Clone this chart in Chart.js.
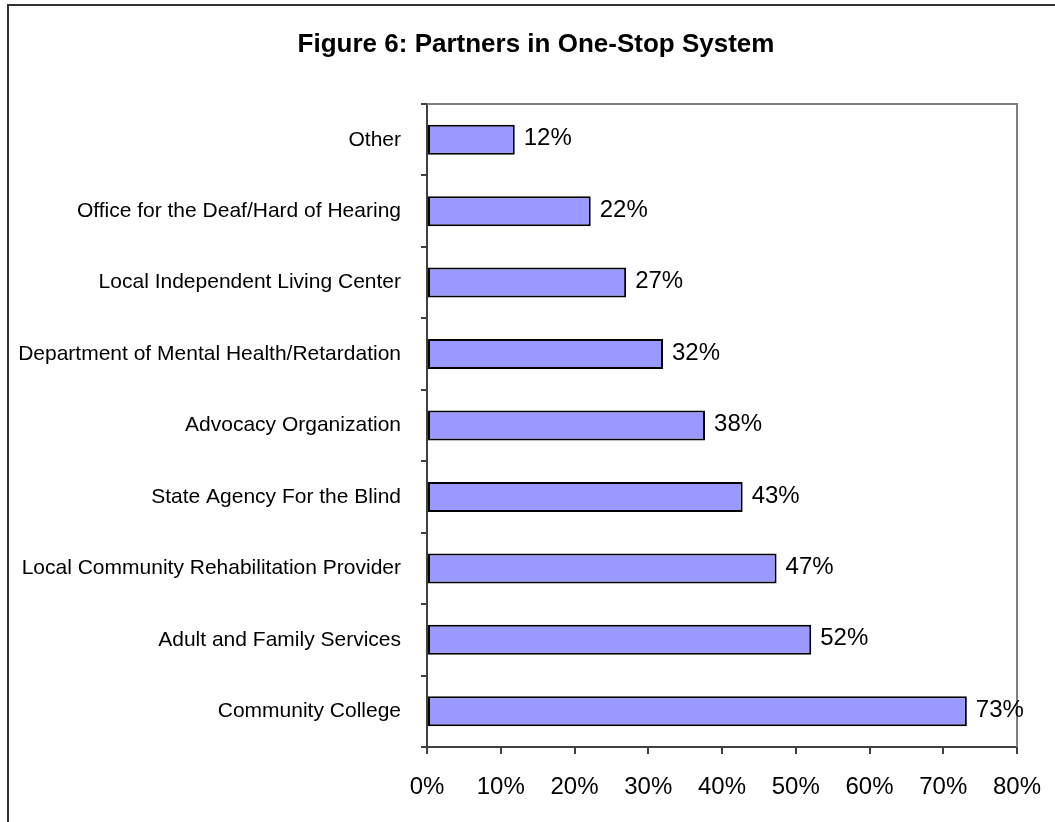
<!DOCTYPE html>
<html lang="en">
<head>
    <meta charset="UTF-8">
    <title>Figure 6: Partners in One-Stop System</title>
    <script src="https://cdn.jsdelivr.net/npm/chart.js"></script>
    <style>
        body {
            margin: 0;
            background-color: #ffffff;
            overflow: hidden;
        }
        #wrap {
            position: relative;
            width: 1055px;
            height: 822px;
        }
        #frame {
            position: absolute;
            left: 7px;
            top: 4px;
            width: 1100px;
            height: 900px;
            border: 2px solid #333333;
            pointer-events: none;
        }
    </style>
</head>
<body>
    <div id="wrap">
        <canvas id="partnersChart"></canvas>
        <div id="frame"></div>
    </div>
    <script>
        const categories = [
            'Other',
            'Office for the Deaf/Hard of Hearing',
            'Local Independent Living Center',
            'Department of Mental Health/Retardation',
            'Advocacy Organization',
            'State Agency For the Blind',
            'Local Community Rehabilitation Provider',
            'Adult and Family Services',
            'Community College'
        ];
        const percentValues = [11.9, 22.2, 27.0, 32.0, 37.7, 42.8, 47.4, 52.1, 73.2];
        const xTicks = [0, 10, 20, 30, 40, 50, 60, 70, 80];
        const chartTitle = 'Figure 6: Partners in One-Stop System';

        const fontFamily = "'Liberation Sans', Arial, sans-serif";

        // title centred on the whole frame, not on the plot
        const frameTitle = {
            id: 'frameTitle',
            afterDraw(chart) {
                const ctx = chart.ctx;
                ctx.save();
                ctx.font = 'bold 26px ' + fontFamily;
                ctx.fillStyle = '#000000';
                ctx.textAlign = 'center';
                ctx.textBaseline = 'alphabetic';
                ctx.fillText(chartTitle, 536, 52);
                ctx.restore();
            }
        };

        // values written at the end of each bar
        const barLabels = {
            id: 'barLabels',
            afterDatasetsDraw(chart) {
                const ctx = chart.ctx;
                const meta = chart.getDatasetMeta(0);
                ctx.save();
                ctx.font = '24px ' + fontFamily;
                ctx.fillStyle = '#000000';
                ctx.textAlign = 'left';
                ctx.textBaseline = 'middle';
                meta.data.forEach((bar, i) => {
                    ctx.fillText(Math.round(percentValues[i]) + '%', bar.x + 9, bar.y - 1);
                });
                ctx.restore();
            }
        };

        // grey top and right edges of the plot area
        const plotEdges = {
            id: 'plotEdges',
            beforeDatasetsDraw(chart) {
                const a = chart.chartArea;
                const ctx = chart.ctx;
                ctx.save();
                ctx.strokeStyle = '#808080';
                ctx.lineWidth = 2;
                ctx.beginPath();
                ctx.moveTo(a.left, a.top);
                ctx.lineTo(a.right, a.top);
                ctx.lineTo(a.right, a.bottom);
                ctx.stroke();
                ctx.restore();
            }
        };

        const ctx = document.getElementById('partnersChart').getContext('2d');
        const partnersChart = new Chart(ctx, {
            type: 'bar',
            data: {
                labels: categories,
                datasets: [{
                    label: 'Partners',
                    data: percentValues,
                    backgroundColor: '#9999ff',
                    borderColor: '#000000',
                    borderWidth: 2,
                    borderSkipped: false,
                    categoryPercentage: 1,
                    barPercentage: 0.42
                }]
            },
            options: {
                indexAxis: 'y',
                responsive: true,
                maintainAspectRatio: false,
                animation: false,
                layout: {
                    padding: { left: 0, right: 38, top: 104, bottom: 0 }
                },
                plugins: {
                    legend: { display: false },
                    tooltip: { enabled: false },
                    title: { display: false }
                },
                scales: {
                    x: {
                        min: 0,
                        max: 80,
                        afterBuildTicks: (scale) => {
                            scale.ticks = xTicks.map(v => ({ value: v }));
                        },
                        afterFit: (scale) => {
                            scale.height = 75;
                            scale.paddingLeft = 0;
                            scale.paddingRight = 0;
                        },
                        grid: {
                            drawOnChartArea: false,
                            drawTicks: true,
                            tickLength: 7,
                            color: '#404040',
                            lineWidth: 2
                        },
                        border: { display: true, color: '#404040', width: 2 },
                        ticks: {
                            padding: 19,
                            color: '#000000',
                            font: { family: fontFamily, size: 24 },
                            callback: (v) => v + '%'
                        }
                    },
                    y: {
                        afterFit: (scale) => {
                            scale.width = 427;
                        },
                        grid: {
                            drawOnChartArea: false,
                            drawTicks: true,
                            tickLength: 6,
                            color: '#404040',
                            lineWidth: 2
                        },
                        border: { display: true, color: '#404040', width: 2 },
                        ticks: {
                            padding: 20,
                            color: '#000000',
                            font: { family: fontFamily, size: 21 }
                        }
                    }
                }
            },
            plugins: [plotEdges, barLabels, frameTitle]
        });
    </script>
</body>
</html>
